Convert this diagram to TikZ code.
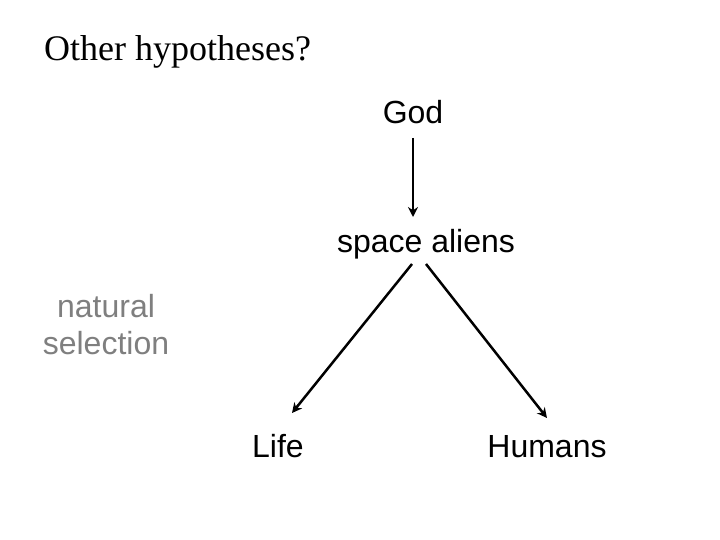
\documentclass[tikz,border=0pt]{standalone}
\usepackage{fontspec}
\setmainfont{Liberation Serif}
\newfontfamily\arialfont{Liberation Sans}
\usetikzlibrary{arrows.meta}
\definecolor{nsgray}{HTML}{7F7F7F}
\begin{document}
\begin{tikzpicture}[x=1pt,y=-1pt,
  lbl/.style={font=\arialfont\fontsize{32}{37}\selectfont, inner sep=0pt, anchor=base},
  conn/.style={line width=2.5pt, -{Stealth[length=10pt,width=10pt]}}]
\useasboundingbox (0,0) rectangle (720,540);
\node[font=\fontsize{36}{42}\selectfont, inner sep=0pt, anchor=base west] (title) at (44,61) {Other hypotheses?};
\node[lbl] (god) at (413,124) {God};
\node[lbl] (aliens) at (426,252) {space aliens};
\node[lbl] (life) at (278,457) {Life};
\node[lbl] (humans) at (547,457) {Humans};
\node[font=\arialfont\fontsize{32}{37}\selectfont, inner sep=0pt, text=nsgray, align=center] (ns) at (106,325) {natural\\selection};
\coordinate (g1) at (413,138);
\coordinate (g2) at (413,217);
\coordinate (a1) at (412,264);
\coordinate (a2) at (426,264);
\coordinate (l1) at (292,413);
\coordinate (h1) at (547,418);
\draw[conn] (g1) -- (g2);
\draw[conn] (a1) -- (l1);
\draw[conn] (a2) -- (h1);
\end{tikzpicture}
\end{document}
